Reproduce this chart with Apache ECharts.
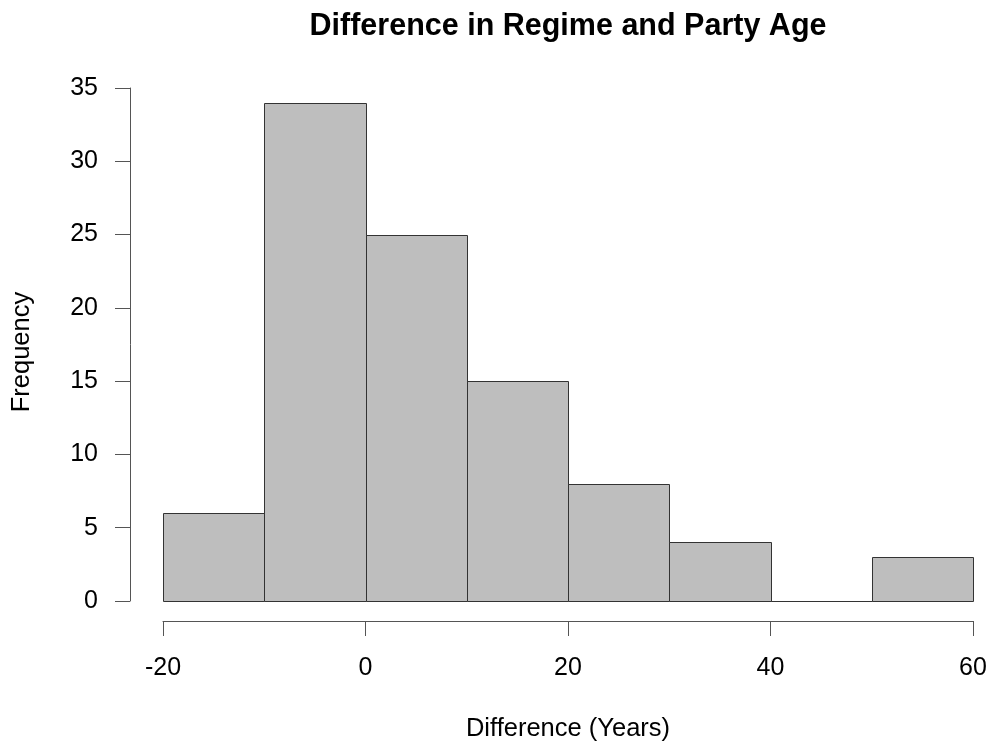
<!DOCTYPE html>
<html>
<head>
<meta charset="utf-8">
<script src="https://cdn.jsdelivr.net/npm/echarts@6/dist/echarts.min.js"></script>
<style>html,body{margin:0;padding:0;background:#fff}#c{width:990px;height:744px}</style>
</head>
<body>
<div id="c"></div>
<script>
const binStarts = [-20, -10, 0, 10, 20, 30, 40, 50];
const binEnds   = [-10, 0, 10, 20, 30, 40, 50, 60];
const counts    = [6, 34, 25, 15, 8, 4, 0, 3];
const xTicks = [-20, 0, 20, 40, 60];
const yTicks = [0, 5, 10, 15, 20, 25, 30, 35];
const titleText = 'Difference in Regime and Party Age';
const xTitle = 'Difference (Years)';
const yTitle = 'Frequency';

const data = binStarts.map((s, i) => [s, binEnds[i], counts[i]]);
const FONT = 'Liberation Sans, Arial, Helvetica, sans-serif';

const chart = echarts.init(document.getElementById('c'));
chart.setOption({
  animation: false,
  backgroundColor: '#fff',
  title: {
    text: titleText,
    left: 563, textAlign: 'center', top: 6,
    textStyle: { fontFamily: FONT, fontSize: 30.5, fontWeight: 'bold', color: '#000' }
  },
  grid: { left: 163, right: 17, top: 88, bottom: 143 },
  xAxis: {
    type: 'value', min: -20, max: 60, interval: 20, offset: 20,
    axisLine: { show: true, onZero: false, lineStyle: { color: '#555', width: 1 } },
    axisTick: { show: true, length: 15, lineStyle: { color: '#555' } },
    splitLine: { show: false },
    axisLabel: { margin: 35, fontFamily: FONT, fontSize: 25, color: '#000',
      formatter: v => xTicks.includes(v) ? String(v) : '' }
  },
  yAxis: {
    type: 'value', min: 0, max: 35, interval: 5, offset: 33,
    axisLine: { show: true, onZero: false, lineStyle: { color: '#555', width: 1 } },
    axisTick: { show: true, length: 15, lineStyle: { color: '#555' } },
    splitLine: { show: false },
    axisLabel: { margin: 32, fontFamily: FONT, fontSize: 25, color: '#000',
      formatter: v => yTicks.includes(v) ? String(v) : '' }
  },
  graphic: [
    { type: 'text', x: 568, y: 729, style: { text: xTitle, align: 'center', verticalAlign: 'middle', font: '25.5px ' + FONT, fill: '#000' } },
    { type: 'text', rotation: Math.PI / 2, x: 22, y: 352, style: { text: yTitle, align: 'center', verticalAlign: 'middle', font: '25.5px ' + FONT, fill: '#000' } }
  ],
  series: [{
    type: 'custom',
    data: data,
    encode: { x: [0, 1], y: 2 },
    renderItem: function (params, api) {
      const p0 = api.coord([api.value(0), api.value(2)]);
      const p1 = api.coord([api.value(1), 0]);
      return {
        type: 'rect',
        shape: { x: Math.round(p0[0]) + 0.5, y: Math.round(p0[1]) + 0.5, width: Math.round(p1[0]) - Math.round(p0[0]), height: Math.round(p1[1]) - Math.round(p0[1]) },
        style: { fill: '#bebebe', stroke: '#333', lineWidth: 1 }
      };
    }
  }]
});
</script>
</body>
</html>
